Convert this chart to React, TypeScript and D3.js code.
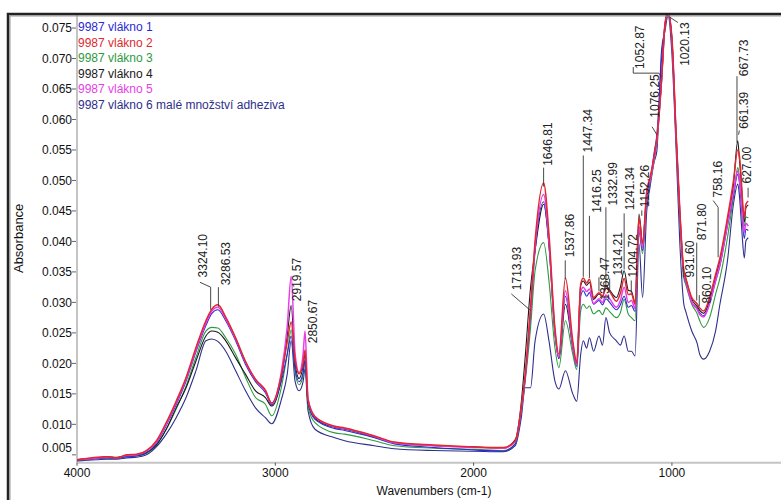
import { useEffect, useRef } from "react";
import * as d3 from "d3";

// wavenumber grid (cm-1), descending as in the spectrum
const wavenumbers = [
  4000, 3950, 3900, 3850, 3800, 3750, 3700, 3650, 3600, 3550, 3500, 3450, 3400, 3350, 3320, 3290, 3250, 3200, 3150, 3100, 3050,
  3018, 2970, 2940, 2920, 2900, 2880, 2860, 2850, 2835, 2800, 2700, 2650, 2500, 2400, 2200,
  2000, 1850, 1790, 1760, 1740, 1713, 1690, 1647, 1620, 1590, 1570, 1537, 1500, 1480,
  1460, 1447, 1430, 1416, 1395, 1368, 1350, 1333, 1314, 1280, 1260, 1241, 1220, 1204, 1186, 1166,
  1148, 1127, 1110, 1090, 1076, 1052, 1035, 1020, 1000, 980, 960, 940, 931, 900,
  872, 860, 840, 810, 780, 758, 720, 690, 668, 661, 650, 645, 635, 627, 615,
];

const vlakno1 = [
  0.0041, 0.0042, 0.0044, 0.0045, 0.0044, 0.0047, 0.0048, 0.0053, 0.0069, 0.0098, 0.0132, 0.0171, 0.0219, 0.0262, 0.0282, 0.0288, 0.027, 0.0237, 0.0198, 0.017, 0.0152,
  0.0132, 0.017, 0.0215, 0.0245, 0.019, 0.017, 0.0185, 0.0205, 0.0135, 0.0108, 0.0093, 0.009, 0.0078, 0.0068, 0.0062,
  0.0058, 0.0056, 0.0068, 0.0122, 0.0175, 0.028, 0.0385, 0.0465, 0.0392, 0.025, 0.0208, 0.031, 0.0225, 0.0195,
  0.031, 0.0319, 0.031, 0.0316, 0.0297, 0.0303, 0.0296, 0.0306, 0.03, 0.0288, 0.0296, 0.031, 0.0292, 0.0295, 0.0285, 0.042,
  0.0385, 0.047, 0.0498, 0.0545, 0.0575, 0.07, 0.0755, 0.0776, 0.0728, 0.0578, 0.044, 0.0345, 0.0335, 0.03,
  0.029, 0.0283, 0.0278, 0.0298, 0.0334, 0.036, 0.0425, 0.0475, 0.051, 0.05, 0.046, 0.0435, 0.0405, 0.042, 0.0418,
];

const vlakno2 = [
  0.0042, 0.0044, 0.0046, 0.0047, 0.0045, 0.005, 0.0051, 0.0057, 0.0073, 0.0103, 0.0138, 0.0177, 0.0226, 0.027, 0.0289, 0.0296, 0.0276, 0.0242, 0.0203, 0.0174, 0.0156,
  0.0135, 0.018, 0.0235, 0.0268, 0.0205, 0.0183, 0.02, 0.0222, 0.014, 0.0113, 0.0097, 0.0094, 0.0081, 0.0071, 0.0066,
  0.0063, 0.0062, 0.0073, 0.0127, 0.0182, 0.029, 0.0401, 0.0496, 0.0412, 0.0258, 0.0215, 0.034, 0.0237, 0.0201,
  0.033, 0.034, 0.0332, 0.0338, 0.0308, 0.0316, 0.031, 0.0324, 0.0318, 0.0302, 0.0315, 0.0339, 0.0313, 0.0314, 0.0297, 0.0439,
  0.0396, 0.0483, 0.0505, 0.054, 0.057, 0.0668, 0.0757, 0.0776, 0.0734, 0.0586, 0.045, 0.0352, 0.0341, 0.0308,
  0.0297, 0.0291, 0.0286, 0.0308, 0.0346, 0.0373, 0.0439, 0.0499, 0.055, 0.0543, 0.05, 0.0472, 0.0439, 0.0461, 0.0466,
];

const vlakno3 = [
  0.0041, 0.0042, 0.0044, 0.0045, 0.0044, 0.0047, 0.0048, 0.0052, 0.0066, 0.0092, 0.0125, 0.0163, 0.021, 0.0253, 0.0259, 0.0258, 0.0242, 0.0215, 0.0177, 0.0144, 0.0133,
  0.0114, 0.016, 0.0215, 0.0255, 0.0185, 0.0165, 0.018, 0.0205, 0.0128, 0.0103, 0.0086, 0.0084, 0.0073, 0.0065, 0.0061,
  0.0059, 0.0057, 0.0068, 0.012, 0.017, 0.0258, 0.0352, 0.0398, 0.0335, 0.0226, 0.0193, 0.027, 0.0215, 0.019,
  0.0286, 0.0297, 0.029, 0.0294, 0.0281, 0.0287, 0.028, 0.0291, 0.0285, 0.0275, 0.0283, 0.0305, 0.0281, 0.0275, 0.027, 0.0415,
  0.038, 0.0468, 0.0495, 0.0532, 0.0562, 0.0662, 0.0752, 0.0776, 0.0728, 0.0575, 0.0435, 0.034, 0.033, 0.0297,
  0.0281, 0.027, 0.0259, 0.0275, 0.0313, 0.034, 0.0406, 0.0472, 0.0521, 0.051, 0.047, 0.045, 0.0425, 0.044, 0.0439,
];

const vlakno4 = [
  0.0042, 0.0044, 0.0045, 0.0047, 0.0046, 0.0049, 0.005, 0.0054, 0.0066, 0.0092, 0.0127, 0.016, 0.0204, 0.0245, 0.0253, 0.0251, 0.0237, 0.0209, 0.0182, 0.0155, 0.0144,
  0.013, 0.0175, 0.0245, 0.0295, 0.02, 0.0175, 0.0195, 0.0215, 0.0135, 0.011, 0.0095, 0.0092, 0.0079, 0.007, 0.0065,
  0.0063, 0.0061, 0.0075, 0.0135, 0.021, 0.0324, 0.0385, 0.0461, 0.0395, 0.025, 0.0208, 0.0297, 0.0228, 0.02,
  0.0328, 0.0335, 0.0328, 0.0333, 0.0305, 0.0314, 0.031, 0.0328, 0.032, 0.0308, 0.0325, 0.0352, 0.032, 0.0318, 0.03, 0.0445,
  0.0398, 0.048, 0.0502, 0.0538, 0.0568, 0.0666, 0.0755, 0.0776, 0.0732, 0.0584, 0.0448, 0.035, 0.034, 0.0305,
  0.0293, 0.0287, 0.0282, 0.0303, 0.0341, 0.0368, 0.0432, 0.0492, 0.0565, 0.054, 0.0495, 0.0465, 0.0432, 0.0455, 0.046,
];

const vlakno5 = [
  0.0042, 0.0043, 0.0045, 0.0046, 0.0045, 0.0049, 0.005, 0.0056, 0.0071, 0.01, 0.0135, 0.0174, 0.0222, 0.0266, 0.0286, 0.0292, 0.0273, 0.024, 0.0202, 0.0173, 0.0155,
  0.0134, 0.0185, 0.026, 0.0343, 0.0215, 0.0185, 0.0215, 0.0253, 0.0142, 0.0112, 0.0096, 0.0093, 0.008, 0.007, 0.0065,
  0.0062, 0.0061, 0.0072, 0.0125, 0.0178, 0.029, 0.0392, 0.0477, 0.04, 0.0252, 0.021, 0.0319, 0.023, 0.0198,
  0.0318, 0.0325, 0.0318, 0.0322, 0.0298, 0.0306, 0.03, 0.0312, 0.0306, 0.0292, 0.0303, 0.0325, 0.03, 0.0303, 0.029, 0.0425,
  0.039, 0.0475, 0.05, 0.0535, 0.0565, 0.0665, 0.0755, 0.0776, 0.073, 0.058, 0.0445, 0.0348, 0.0337, 0.03,
  0.0288, 0.028, 0.0276, 0.0298, 0.0336, 0.0362, 0.0428, 0.048, 0.0516, 0.0505, 0.047, 0.0445, 0.0415, 0.043, 0.0425,
];

const vlakno6 = [
  0.004, 0.0041, 0.0042, 0.0043, 0.0043, 0.0045, 0.0046, 0.005, 0.0063, 0.0084, 0.0111, 0.0144, 0.0188, 0.0237, 0.024, 0.0236, 0.022, 0.0188, 0.0155, 0.0127, 0.0111,
  0.0101, 0.014, 0.0182, 0.0237, 0.017, 0.0155, 0.017, 0.0191, 0.0122, 0.0092, 0.0078, 0.0073, 0.0065, 0.006, 0.0057,
  0.0056, 0.0055, 0.0065, 0.011, 0.016, 0.016, 0.0237, 0.0281, 0.0237, 0.0171, 0.0158, 0.0188, 0.015, 0.0138,
  0.0215, 0.0237, 0.0225, 0.0242, 0.022, 0.0245, 0.023, 0.0275, 0.025, 0.0237, 0.023, 0.0245, 0.022, 0.022, 0.0212, 0.0396,
  0.0308, 0.045, 0.049, 0.053, 0.0548, 0.0715, 0.0745, 0.077, 0.0707, 0.056, 0.0396, 0.0297, 0.0286, 0.0253,
  0.0232, 0.0215, 0.0207, 0.022, 0.0253, 0.0297, 0.0368, 0.0461, 0.0494, 0.048, 0.043, 0.0406, 0.0373, 0.0401, 0.0406,
];

const seriesNames = [
  "9987 vlákno 1",
  "9987 vlákno 2",
  "9987 vlákno 3",
  "9987 vlákno 4",
  "9987 vlákno 5",
  "9987 vlákno 6 malé množství adheziva",
];
const seriesValues = [vlakno1, vlakno2, vlakno3, vlakno4, vlakno5, vlakno6];
const seriesColors = ["#2a2ad4", "#e0282e", "#2e9a3e", "#1a1a1a", "#e83ee8", "#2e2e8c"];
const drawOrder = [5, 2, 3, 0, 4, 1];

const yTicks = [0.005, 0.01, 0.015, 0.02, 0.025, 0.03, 0.035, 0.04, 0.045, 0.05, 0.055, 0.06, 0.065, 0.07, 0.075];
const xTicks = [4000, 3000, 2000, 1000];

// peak annotations in data units: text centre (at, base) + leader line points [wn, abs]
const peakLabels = [
  { text: "3324.10", at: 3365, base: 0.0341, leader: [[3326, 0.0288], [3326, 0.0325], [3380, 0.0333]] },
  { text: "3286.53", at: 3249, base: 0.0328, leader: [[3287, 0.0293], [3287, 0.0325]] },
  { text: "2919.57", at: 2891, base: 0.0302, leader: [] },
  { text: "2850.67", at: 2812, base: 0.0233, leader: [] },
  { text: "1713.93", at: 1783, base: 0.032, leader: [[1714, 0.0287], [1810, 0.0314]] },
  { text: "1646.81", at: 1625, base: 0.0524, leader: [[1647, 0.049], [1647, 0.0521]] },
  { text: "1537.86", at: 1514, base: 0.0374, leader: [[1538, 0.0338], [1538, 0.0369]] },
  { text: "1447.34", at: 1423, base: 0.0546, leader: [[1447, 0.0342], [1447, 0.0541]] },
  { text: "1416.25", at: 1380, base: 0.0447, leader: [[1416, 0.034], [1416, 0.0442]] },
  { text: "1368.47", at: 1338, base: 0.0303, leader: [[1368, 0.0318], [1368, 0.0341]] },
  { text: "1332.99", at: 1298, base: 0.0459, leader: [[1333, 0.0326], [1333, 0.0456]] },
  { text: "1314.21", at: 1272, base: 0.0344, leader: [[1314, 0.032], [1314, 0.0339]] },
  { text: "1241.34", at: 1212, base: 0.0451, leader: [[1241, 0.0354], [1241, 0.0446]] },
  { text: "1204.72", at: 1197, base: 0.0341, leader: [[1205, 0.0316], [1205, 0.0336]] },
  { text: "1152.26", at: 1136, base: 0.0456, leader: [[1152, 0.0442], [1152, 0.0451]] },
  { text: "1076.25", at: 1086, base: 0.0603, leader: [[1076, 0.0575], [1100, 0.0588]] },
  { text: "1052.87", at: 1161, base: 0.0683, leader: [[1053, 0.067], [1066, 0.0676], [1195, 0.0676], [1195, 0.0686]] },
  { text: "1020.13", at: 934, base: 0.0688, leader: [[1025, 0.0771], [970, 0.0759]] },
  { text: "931.60", at: 909, base: 0.0341, leader: [[943, 0.0341], [943, 0.0359]] },
  { text: "871.80", at: 851, base: 0.0402, leader: [[875, 0.0303], [875, 0.0398]] },
  { text: "860.10", at: 825, base: 0.0298, leader: [[862, 0.0294], [862, 0.0312]] },
  { text: "758.16", at: 767, base: 0.0472, leader: [[767, 0.0374], [767, 0.0456], [792, 0.0467]] },
  { text: "667.73", at: 640, base: 0.0671, leader: [[672, 0.0562], [672, 0.0671]] },
  { text: "661.39", at: 636, base: 0.0585, leader: [[664, 0.0575], [660, 0.0582]] },
  { text: "627.00", at: 622, base: 0.0495, leader: [[616, 0.0472], [616, 0.0488]] },
];

const FONT = "'Liberation Sans', Arial, sans-serif";

const SpectrumChart = () => {
  const ref = useRef(null);
  const width = 781;
  const height = 500;

  useEffect(() => {
    const margin = { top: 14, right: 0, bottom: 37.3, left: 77 };
    const plotBottom = height - margin.bottom;

    const svg = d3.select(ref.current).html("");

    const x = d3.scaleLinear().domain([4000, 450]).range([margin.left, width - margin.right]);
    const y = d3.scaleLinear().domain([0.00371, 0.0773]).range([plotBottom, margin.top]);

    svg.append("rect").attr("width", width).attr("height", height).attr("fill", "#fff");

    // clip for spectra
    svg
      .append("defs")
      .append("clipPath")
      .attr("id", "plotClip")
      .append("rect")
      .attr("x", margin.left)
      .attr("y", margin.top)
      .attr("width", width - margin.left)
      .attr("height", plotBottom - margin.top);

    // axis lines (light grey)
    svg
      .append("line")
      .attr("x1", margin.left)
      .attr("x2", margin.left)
      .attr("y1", margin.top)
      .attr("y2", plotBottom)
      .attr("stroke", "#c4c4c4")
      .attr("stroke-width", 2);
    svg
      .append("line")
      .attr("x1", margin.left)
      .attr("x2", width)
      .attr("y1", plotBottom)
      .attr("y2", plotBottom)
      .attr("stroke", "#c4c4c4")
      .attr("stroke-width", 2);

    // y ticks
    const yg = svg.append("g").attr("font-family", FONT).attr("font-size", 12).attr("fill", "#111");
    yTicks.forEach((t) => {
      const py = y(t);
      yg.append("line")
        .attr("x1", margin.left - 5)
        .attr("x2", margin.left - 1)
        .attr("y1", py)
        .attr("y2", py)
        .attr("stroke", "#666")
        .attr("stroke-width", 1);
      // the lowest label is lifted off the axis, as in the original
      const ly = plotBottom - py < 12 ? py - 7 : py;
      yg.append("text")
        .attr("x", margin.left - 5)
        .attr("y", ly)
        .attr("dy", "0.35em")
        .attr("text-anchor", "end")
        .text(d3.format(".3f")(t));
    });

    // x ticks
    const xg = svg.append("g").attr("font-family", FONT).attr("font-size", 12).attr("fill", "#111");
    xTicks.forEach((t) => {
      const px = x(t);
      xg.append("line")
        .attr("x1", px)
        .attr("x2", px)
        .attr("y1", plotBottom)
        .attr("y2", plotBottom + 3)
        .attr("stroke", "#555");
      xg.append("text")
        .attr("x", px)
        .attr("y", plotBottom + 10)
        .attr("dy", "0.35em")
        .attr("text-anchor", "middle")
        .text(t);
    });

    // axis titles
    svg
      .append("text")
      .attr("transform", `translate(18,${(margin.top + plotBottom) / 2}) rotate(-90)`)
      .attr("text-anchor", "middle")
      .attr("dy", "0.35em")
      .attr("font-family", FONT)
      .attr("font-size", 13)
      .attr("fill", "#111")
      .text("Absorbance");
    svg
      .append("text")
      .attr("x", 434)
      .attr("y", 491)
      .attr("dy", "0.35em")
      .attr("text-anchor", "middle")
      .attr("font-family", FONT)
      .attr("font-size", 12)
      .attr("fill", "#111")
      .text("Wavenumbers (cm-1)");

    // spectra
    const line = d3
      .line()
      .x((d) => x(d[0]))
      .y((d) => y(d[1]))
      .curve(d3.curveMonotoneX);

    const lines = svg.append("g").attr("clip-path", "url(#plotClip)");
    drawOrder.forEach((i) => {
      const pts = wavenumbers.map((w, k) => [w, seriesValues[i][k]]);
      lines
        .append("path")
        .attr("d", line(pts))
        .attr("fill", "none")
        .attr("stroke", seriesColors[i])
        .attr("stroke-width", i === 1 || i === 4 ? 1.5 : 1.1)
        .attr("stroke-linejoin", "round");
    });

    // peak labels
    const pg = svg.append("g");
    peakLabels.forEach((p) => {
      if (p.leader.length > 1) {
        pg.append("polyline")
          .attr("points", p.leader.map((d) => `${x(d[0])},${y(d[1])}`).join(" "))
          .attr("fill", "none")
          .attr("stroke", "#333")
          .attr("stroke-width", 0.9);
      }
      pg.append("text")
        .attr("transform", `translate(${x(p.at)},${y(p.base)}) rotate(-90)`)
        .attr("dy", "0.35em")
        .attr("font-family", FONT)
        .attr("font-size", 12)
        .attr("fill", "#222")
        .text(p.text);
    });

    // legend
    const lg = svg.append("g").attr("font-family", FONT).attr("font-size", 12);
    seriesNames.forEach((name, i) => {
      lg.append("text")
        .attr("x", 78)
        .attr("y", 27 + i * 15.5)
        .attr("dy", "0.35em")
        .attr("fill", seriesColors[i])
        .text(name);
    });

    // outer frame
    svg
      .append("path")
      .attr("d", `M8,${height} V14 H${width}`)
      .attr("fill", "none")
      .attr("stroke", "#999")
      .attr("stroke-width", 1)
      .attr("transform", "translate(2,2)");
    svg
      .append("path")
      .attr("d", `M8,${height} V14 H${width}`)
      .attr("fill", "none")
      .attr("stroke", "#222")
      .attr("stroke-width", 2.5);
  }, []);

  return <svg ref={ref} width={width} height={height} style={{ display: "block" }}></svg>;
};

export default function App() {
  return (
    <div style={{ position: "absolute", left: 0, top: 0 }}>
      <SpectrumChart />
    </div>
  );
}
